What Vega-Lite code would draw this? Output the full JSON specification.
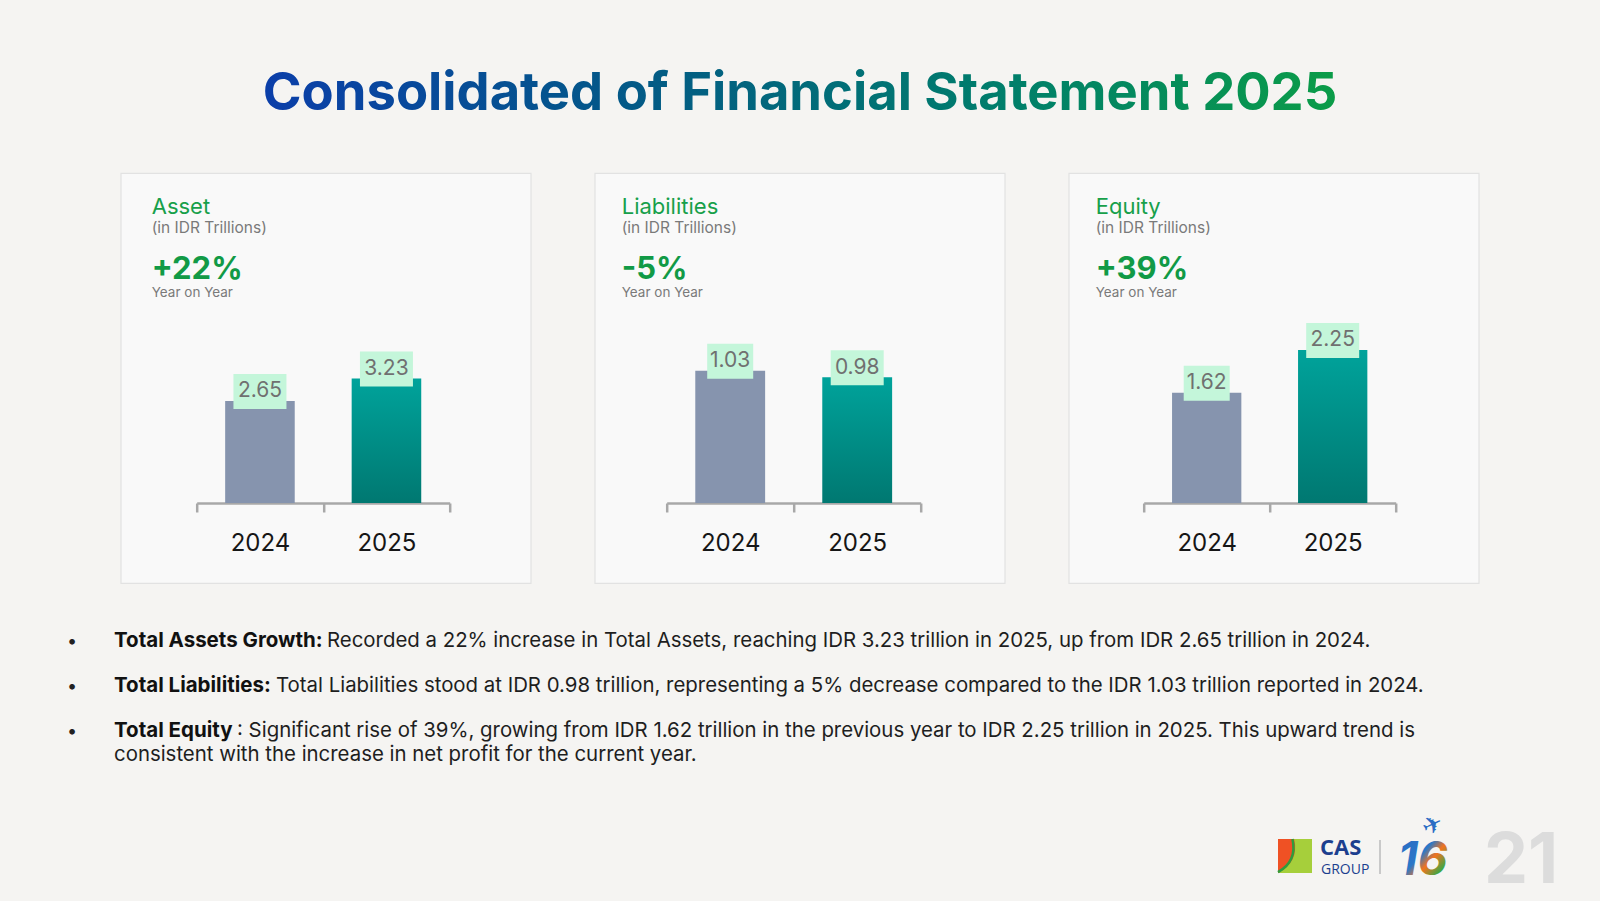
{
  "$schema": "https://vega.github.io/schema/vega-lite/v6.json",
  "padding": 0,
  "background": "#f5f4f2",
  "config": {"view": {"stroke": null}, "font": "Inter"},
  "spacing": 0,
  "center": true,
  "datasets": {
    "fin": [
      {"metric": "Asset", "year": "2024", "value": 2.65},
      {"metric": "Asset", "year": "2025", "value": 3.23},
      {"metric": "Liabilities", "year": "2024", "value": 1.03},
      {"metric": "Liabilities", "year": "2025", "value": 0.98},
      {"metric": "Equity", "year": "2024", "value": 1.62},
      {"metric": "Equity", "year": "2025", "value": 2.25}
    ],
    "cards": [
      {"metric": "Asset", "unit": "(in IDR Trillions)", "yoy": "+22%", "basis": "Year on Year"},
      {"metric": "Liabilities", "unit": "(in IDR Trillions)", "yoy": "-5%", "basis": "Year on Year"},
      {"metric": "Equity", "unit": "(in IDR Trillions)", "yoy": "+39%", "basis": "Year on Year"}
    ],
    "notes": [
      {"line": 1, "bullet": "•", "lead": "Total Assets Growth:", "body": "Recorded a 22% increase in Total Assets, reaching IDR 3.23 trillion in 2025, up from IDR 2.65 trillion in 2024."},
      {"line": 2, "bullet": "•", "lead": "Total Liabilities:", "body": "Total Liabilities stood at IDR 0.98 trillion, representing a 5% decrease compared to the IDR 1.03 trillion reported in 2024."},
      {"line": 3, "bullet": "•", "lead": "Total Equity", "body": ": Significant rise of 39%, growing from IDR 1.62 trillion in the previous year to IDR 2.25 trillion in 2025. This upward trend is"},
      {"line": 4, "bullet": "", "lead": "", "body": "consistent with the increase in net profit for the current year."}
    ],
    "heading": [{"text": "Consolidated of Financial Statement 2025"}],
    "footer": [{"brand": "CAS", "group": "GROUP", "edition": "16", "plane": "✈", "page": "21"}]
  },
  "vconcat": [
    {
      "width": 1600,
      "height": 172,
      "data": {"name": "heading"},
      "mark": {
        "type": "text", "x": 800, "y": 110, "align": "center", "baseline": "alphabetic",
        "fontSize": 52.5, "fontWeight": "bold",
        "color": {"gradient": "linear", "x1": 0, "y1": 0, "x2": 1, "y2": 0,
          "stops": [{"offset": 0, "color": "#0b3ea9"}, {"offset": 0.35, "color": "#035a86"}, {"offset": 0.7, "color": "#007f6a"}, {"offset": 1, "color": "#0b9c48"}]}
      },
      "encoding": {"text": {"field": "text"}}
    },
    {
      "spacing": 62,
      "hconcat": [
        {
          "width": 410, "height": 410,
          "view": {"fill": "#f9f9f9", "stroke": "#e2e2e2", "strokeWidth": 1.2},
          "layer": [
            {
              "data": {"name": "fin"},
              "transform": [{"filter": "datum.metric === 'Asset'"}],
              "encoding": {
                "x": {"field": "year", "type": "nominal", "scale": {"range": [76, 329], "paddingInner": 0, "paddingOuter": 0},
                  "axis": {"title": null, "offset": -80, "domainColor": "#a8a8a8", "domainWidth": 2.5, "tickColor": "#a8a8a8", "tickWidth": 2.5, "tickSize": 9, "tickBand": "extent", "labelFontSize": 24, "labelColor": "#161616", "labelPadding": 19, "labelAngle": 0}},
                "y": {"field": "value", "type": "quantitative", "scale": {"domain": [0, 8.57], "range": [330, 0], "nice": false, "zero": true}, "axis": null}
              },
              "layer": [
                {"transform": [{"filter": "datum.year === '2024'"}], "mark": {"type": "bar", "color": "#8694ae", "width": {"band": 0.55}}},
                {"transform": [{"filter": "datum.year === '2025'"}], "mark": {"type": "bar", "width": {"band": 0.55},
                  "color": {"gradient": "linear", "x1": 0, "y1": 0, "x2": 0, "y2": 1, "stops": [{"offset": 0, "color": "#00a39b"}, {"offset": 1, "color": "#007871"}]}}},
                {"mark": {"type": "tick", "color": "#c4f6da", "opacity": 1, "thickness": 35, "yOffset": -9.5},
                  "encoding": {"size": {"condition": {"test": "datum.value >= 1 && datum.value < 2", "value": 46}, "value": 53}}},
                {"mark": {"type": "text", "fontSize": 21, "color": "#707070", "baseline": "middle", "yOffset": -9.5},
                  "encoding": {"text": {"field": "value", "type": "quantitative", "format": ".2f"}}}
              ]
            },
            {
              "data": {"name": "cards"},
              "transform": [{"filter": "datum.metric === 'Asset'"}],
              "layer": [
                {"mark": {"type": "text", "align": "left", "baseline": "alphabetic", "x": 31, "y": 41, "fontSize": 22, "color": "#17a04a"}, "encoding": {"text": {"field": "metric"}}},
                {"mark": {"type": "text", "align": "left", "baseline": "alphabetic", "x": 31, "y": 60, "fontSize": 15.5, "color": "#7a7a7a"}, "encoding": {"text": {"field": "unit"}}},
                {"mark": {"type": "text", "align": "left", "baseline": "alphabetic", "x": 31, "y": 106, "fontSize": 31, "fontWeight": "bold", "color": "#119a46"}, "encoding": {"text": {"field": "yoy"}}},
                {"mark": {"type": "text", "align": "left", "baseline": "alphabetic", "x": 31, "y": 124, "fontSize": 13.5, "color": "#7a7a7a"}, "encoding": {"text": {"field": "basis"}}}
              ]
            }
          ]
        },
        {
          "width": 410, "height": 410,
          "view": {"fill": "#f9f9f9", "stroke": "#e2e2e2", "strokeWidth": 1.2},
          "layer": [
            {
              "data": {"name": "fin"},
              "transform": [{"filter": "datum.metric === 'Liabilities'"}],
              "encoding": {
                "x": {"field": "year", "type": "nominal", "scale": {"range": [72, 326], "paddingInner": 0, "paddingOuter": 0},
                  "axis": {"title": null, "offset": -80, "domainColor": "#a8a8a8", "domainWidth": 2.5, "tickColor": "#a8a8a8", "tickWidth": 2.5, "tickSize": 9, "tickBand": "extent", "labelFontSize": 24, "labelColor": "#161616", "labelPadding": 19, "labelAngle": 0}},
                "y": {"field": "value", "type": "quantitative", "scale": {"domain": [0, 2.57], "range": [330, 0], "nice": false, "zero": true}, "axis": null}
              },
              "layer": [
                {"transform": [{"filter": "datum.year === '2024'"}], "mark": {"type": "bar", "color": "#8694ae", "width": {"band": 0.55}}},
                {"transform": [{"filter": "datum.year === '2025'"}], "mark": {"type": "bar", "width": {"band": 0.55},
                  "color": {"gradient": "linear", "x1": 0, "y1": 0, "x2": 0, "y2": 1, "stops": [{"offset": 0, "color": "#00a39b"}, {"offset": 1, "color": "#007871"}]}}},
                {"mark": {"type": "tick", "color": "#c4f6da", "opacity": 1, "thickness": 35, "yOffset": -9.5},
                  "encoding": {"size": {"condition": {"test": "datum.value >= 1 && datum.value < 2", "value": 46}, "value": 53}}},
                {"mark": {"type": "text", "fontSize": 21, "color": "#707070", "baseline": "middle", "yOffset": -9.5},
                  "encoding": {"text": {"field": "value", "type": "quantitative", "format": ".2f"}}}
              ]
            },
            {
              "data": {"name": "cards"},
              "transform": [{"filter": "datum.metric === 'Liabilities'"}],
              "layer": [
                {"mark": {"type": "text", "align": "left", "baseline": "alphabetic", "x": 27, "y": 41, "fontSize": 22, "color": "#17a04a"}, "encoding": {"text": {"field": "metric"}}},
                {"mark": {"type": "text", "align": "left", "baseline": "alphabetic", "x": 27, "y": 60, "fontSize": 15.5, "color": "#7a7a7a"}, "encoding": {"text": {"field": "unit"}}},
                {"mark": {"type": "text", "align": "left", "baseline": "alphabetic", "x": 27, "y": 106, "fontSize": 31, "fontWeight": "bold", "color": "#119a46"}, "encoding": {"text": {"field": "yoy"}}},
                {"mark": {"type": "text", "align": "left", "baseline": "alphabetic", "x": 27, "y": 124, "fontSize": 13.5, "color": "#7a7a7a"}, "encoding": {"text": {"field": "basis"}}}
              ]
            }
          ]
        },
        {
          "width": 410, "height": 410,
          "view": {"fill": "#f9f9f9", "stroke": "#e2e2e2", "strokeWidth": 1.2},
          "layer": [
            {
              "data": {"name": "fin"},
              "transform": [{"filter": "datum.metric === 'Equity'"}],
              "encoding": {
                "x": {"field": "year", "type": "nominal", "scale": {"range": [75, 327], "paddingInner": 0, "paddingOuter": 0},
                  "axis": {"title": null, "offset": -80, "domainColor": "#a8a8a8", "domainWidth": 2.5, "tickColor": "#a8a8a8", "tickWidth": 2.5, "tickSize": 9, "tickBand": "extent", "labelFontSize": 24, "labelColor": "#161616", "labelPadding": 19, "labelAngle": 0}},
                "y": {"field": "value", "type": "quantitative", "scale": {"domain": [0, 4.85], "range": [330, 0], "nice": false, "zero": true}, "axis": null}
              },
              "layer": [
                {"transform": [{"filter": "datum.year === '2024'"}], "mark": {"type": "bar", "color": "#8694ae", "width": {"band": 0.55}}},
                {"transform": [{"filter": "datum.year === '2025'"}], "mark": {"type": "bar", "width": {"band": 0.55},
                  "color": {"gradient": "linear", "x1": 0, "y1": 0, "x2": 0, "y2": 1, "stops": [{"offset": 0, "color": "#00a39b"}, {"offset": 1, "color": "#007871"}]}}},
                {"mark": {"type": "tick", "color": "#c4f6da", "opacity": 1, "thickness": 35, "yOffset": -9.5},
                  "encoding": {"size": {"condition": {"test": "datum.value >= 1 && datum.value < 2", "value": 46}, "value": 53}}},
                {"mark": {"type": "text", "fontSize": 21, "color": "#707070", "baseline": "middle", "yOffset": -9.5},
                  "encoding": {"text": {"field": "value", "type": "quantitative", "format": ".2f"}}}
              ]
            },
            {
              "data": {"name": "cards"},
              "transform": [{"filter": "datum.metric === 'Equity'"}],
              "layer": [
                {"mark": {"type": "text", "align": "left", "baseline": "alphabetic", "x": 27, "y": 41, "fontSize": 22, "color": "#17a04a"}, "encoding": {"text": {"field": "metric"}}},
                {"mark": {"type": "text", "align": "left", "baseline": "alphabetic", "x": 27, "y": 60, "fontSize": 15.5, "color": "#7a7a7a"}, "encoding": {"text": {"field": "unit"}}},
                {"mark": {"type": "text", "align": "left", "baseline": "alphabetic", "x": 27, "y": 106, "fontSize": 31, "fontWeight": "bold", "color": "#119a46"}, "encoding": {"text": {"field": "yoy"}}},
                {"mark": {"type": "text", "align": "left", "baseline": "alphabetic", "x": 27, "y": 124, "fontSize": 13.5, "color": "#7a7a7a"}, "encoding": {"text": {"field": "basis"}}}
              ]
            }
          ]
        }
      ]
    },
    {
      "width": 1600,
      "height": 319,
      "layer": [
        {
          "data": {"name": "notes"},
          "encoding": {
            "y": {"field": "line", "type": "quantitative", "scale": {"domain": [1, 2, 3, 4], "range": [63, 108, 153, 177], "zero": false, "nice": false}, "axis": null}
          },
          "layer": [
            {"mark": {"type": "text", "align": "left", "baseline": "alphabetic", "x": 67, "fontSize": 18, "color": "#222222"}, "encoding": {"text": {"field": "bullet"}}},
            {"mark": {"type": "text", "align": "left", "baseline": "alphabetic", "x": 114, "fontSize": 20.5, "fontWeight": "bold", "color": "#111111"}, "encoding": {"text": {"field": "lead"}}},
            {"mark": {"type": "text", "align": "left", "baseline": "alphabetic", "fontSize": 20.4, "color": "#1e1e1e"},
              "encoding": {"text": {"field": "body"},
                "x": {"field": "line", "type": "quantitative", "scale": {"domain": [1, 2, 3, 4], "range": [327, 276, 237, 114], "zero": false, "nice": false}, "axis": null}}}
          ]
        },
        {
          "data": {"name": "footer"},
          "layer": [
            {"mark": {"type": "point", "shape": "square", "filled": true, "x": 1295, "y": 272, "size": 1156, "color": "#ef5124", "opacity": 1}, "encoding": {}},
            {"mark": {"type": "point", "shape": "M -0.05 -1 L 1 -1 L 1 1 L -1 1 Q 0.25 0.35 -0.05 -1 Z", "filled": true, "x": 1295, "y": 272, "size": 1156, "color": "#a6cf3b", "opacity": 1}, "encoding": {}},
            {"mark": {"type": "point", "shape": "M -0.15 -1 Q 0.15 0.3 -1 0.95", "filled": false, "x": 1295, "y": 272, "size": 1156, "color": "#2f9c3c", "strokeWidth": 2.5, "opacity": 1}, "encoding": {}},
            {"mark": {"type": "text", "align": "left", "baseline": "alphabetic", "x": 1320, "y": 271, "fontSize": 22, "fontWeight": "bold", "font": "Open Sans", "color": "#1c3f8e"}, "encoding": {"text": {"field": "brand"}}},
            {"mark": {"type": "text", "align": "left", "baseline": "alphabetic", "x": 1321, "y": 290, "fontSize": 14, "font": "Open Sans", "color": "#1c3f8e"}, "encoding": {"text": {"field": "group"}}},
            {"mark": {"type": "rule", "color": "#c9c9c9", "strokeWidth": 2}, "encoding": {"x": {"value": 1380}, "y": {"value": 256}, "y2": {"value": 290}}},
            {"mark": {"type": "text", "align": "left", "baseline": "alphabetic", "x": 1398, "y": 291, "fontSize": 46, "fontWeight": "bold", "fontStyle": "italic",
              "color": {"gradient": "linear", "x1": 0, "y1": 0, "x2": 1, "y2": 1, "stops": [{"offset": 0, "color": "#2a68c2"}, {"offset": 0.45, "color": "#2a78c8"}, {"offset": 0.6, "color": "#f2731f"}, {"offset": 0.8, "color": "#3aa845"}, {"offset": 1, "color": "#2a78c8"}]}},
              "encoding": {"text": {"field": "edition"}}},
            {"mark": {"type": "text", "align": "center", "baseline": "middle", "x": 1433, "y": 242, "fontSize": 24, "angle": -25, "font": "DejaVu Sans", "color": "#2a6cc4"}, "encoding": {"text": {"field": "plane"}}},
            {"mark": {"type": "text", "align": "left", "baseline": "alphabetic", "x": 1484, "y": 299, "fontSize": 70, "fontWeight": "bold", "font": "Noto Sans Condensed, Liberation Sans Narrow, Inter", "color": "#dcdcdc"}, "encoding": {"text": {"field": "page"}}}
          ]
        }
      ]
    }
  ]
}
